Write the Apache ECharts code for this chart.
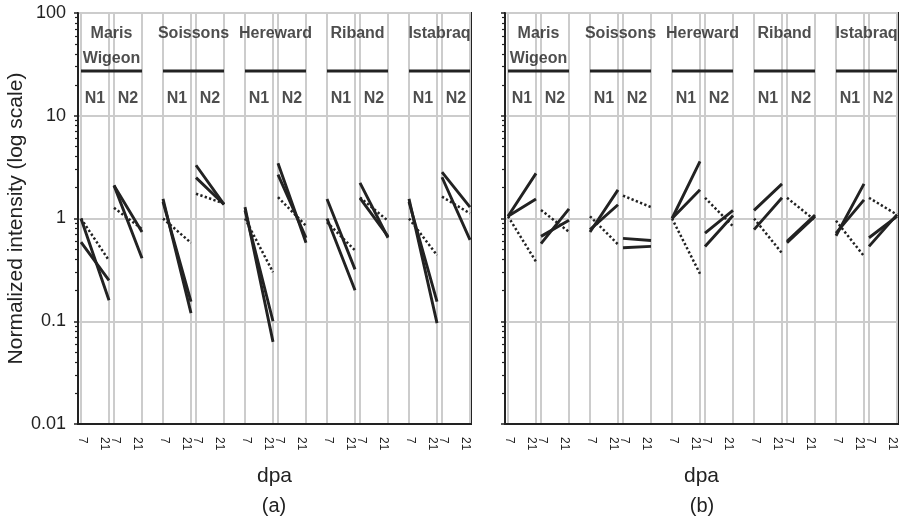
<!DOCTYPE html>
<html>
<head>
<meta charset="utf-8">
<script src="https://cdn.jsdelivr.net/npm/echarts@6/dist/echarts.min.js"></script>
<style>
  html, body { margin: 0; padding: 0; background: #fff; }
  #chart { width: 906px; height: 519px; }
</style>
</head>
<body>
<div id="chart"></div>
<script>
// cultivars and sub-groups along the x axis
const cultivars = ['Maris\nWigeon', 'Soissons', 'Hereward', 'Riband', 'Istabraq']
const nLevels = ['N1', 'N2']
const dpaDays = ['7', '21']
const panelLabels = ['(a)', '(b)']

// [value at 7 dpa, value at 21 dpa]
// order: MW N1, MW N2, So N1, So N2, He N1, He N2, Ri N1, Ri N2, Is N1, Is N2
const aSolid1 = [[1.0, 0.16], [2.1, 0.74], [1.55, 0.12], [3.3, 1.37], [1.29, 0.063], [3.45, 0.58], [1.55, 0.32], [2.22, 0.65], [1.55, 0.096], [2.83, 1.29]]
const aSolid2 = [[0.59, 0.25], [2.1, 0.41], [1.45, 0.155], [2.5, 1.37], [1.2, 0.10], [2.67, 0.65], [1.0, 0.20], [1.58, 0.67], [1.45, 0.155], [2.52, 0.62]]
const aDotted = [[1.0, 0.39], [1.27, 0.79], [1.0, 0.58], [1.74, 1.4], [1.0, 0.30], [1.61, 0.85], [0.92, 0.49], [1.6, 0.95], [1.0, 0.44], [1.63, 1.12]]

const bSolid1 = [[1.05, 2.75], [0.57, 1.24], [0.74, 1.9], [0.64, 0.61], [1.0, 3.6], [0.72, 1.2], [1.2, 2.17], [0.58, 1.05], [0.68, 2.17], [0.535, 1.09]]
const bSolid2 = [[1.05, 1.55], [0.67, 0.96], [0.78, 1.36], [0.52, 0.535], [1.0, 1.9], [0.535, 1.07], [0.78, 1.59], [0.6, 1.08], [0.72, 1.52], [0.65, 1.05]]
const bDotted = [[1.05, 0.38], [1.21, 0.74], [1.05, 0.56], [1.67, 1.29], [1.0, 0.29], [1.59, 0.84], [1.0, 0.46], [1.59, 0.96], [0.95, 0.43], [1.59, 1.09]]

// y axis decades
const yMin = 0.01
const yMax = 100

// x layout (axis units)
const X0 = 3, GROUP_STEP = 82, N_STEP = 33, DAY_STEP = 28, X_MAX = 393
const FONT = '"Liberation Sans", Arial, Helvetica, sans-serif'
const INK = '#222'
const GRID_GRAY = '#cccccc'

function xPos(i, d) {
  const g = Math.floor(i / 2)
  const n = i % 2
  return X0 + g * GROUP_STEP + n * N_STEP + d * DAY_STEP
}

// tick positions + labels
const tickPos = []
const tickLabel = {}
for (let i = 0; i < cultivars.length * nLevels.length; i++) {
  dpaDays.forEach((d, k) => {
    const p = xPos(i, k)
    tickPos.push(p)
    tickLabel[p] = { text: d, late: k === 1 }
  })
}

// minor ticks (2..9 in each decade), as exponents for a linear helper axis
const minorExp = []
for (let e = Math.log10(yMin); e < Math.log10(yMax); e++) {
  for (let m = 2; m <= 9; m++) minorExp.push(e + Math.log10(m))
}

function segments(pairs) {
  const out = []
  pairs.forEach((v, i) => {
    out.push([xPos(i, 0), v[0]])
    out.push([xPos(i, 1), v[1]])
    out.push([xPos(i, 1) + 1, '-'])
  })
  return out
}

function lineSeries(pairs, k, dotted) {
  return {
    type: 'line',
    xAxisIndex: k,
    yAxisIndex: k * 2,
    data: segments(pairs),
    symbol: 'none',
    connectNulls: false,
    z: 5,
    lineStyle: dotted
      ? { color: INK, width: 2.5, type: [2.3, 2.3] }
      : { color: INK, width: 2.9 }
  }
}

function headerSeries(k) {
  const bar = []
  const names = []
  const ns = []
  cultivars.forEach((c, g) => {
    const s = xPos(g * 2, 0)
    const e = xPos(g * 2 + 1, 1)
    bar.push([s, 27.3], [e, 27.3], [e + 1, '-'])
    names.push({ value: [(s + e) / 2, 85], name: c })
    nLevels.forEach((n, j) => {
      ns.push({ value: [(xPos(g * 2 + j, 0) + xPos(g * 2 + j, 1)) / 2, 14.8], name: n })
    })
  })
  const lbl = { show: true, color: INK, fontFamily: FONT, fontWeight: 'bold', fontSize: 16, formatter: p => p.name }
  return [
    {
      type: 'line', xAxisIndex: k, yAxisIndex: k * 2, data: bar, symbol: 'none',
      lineStyle: { color: INK, width: 3 }, z: 4
    },
    {
      type: 'scatter', xAxisIndex: k, yAxisIndex: k * 2, data: names, symbolSize: 1,
      itemStyle: { color: 'rgba(0,0,0,0)' },
      label: Object.assign({}, lbl, { position: 'bottom', distance: 0, lineHeight: 25 }), z: 6
    },
    {
      type: 'scatter', xAxisIndex: k, yAxisIndex: k * 2, data: ns, symbolSize: 1,
      itemStyle: { color: 'rgba(0,0,0,0)' },
      label: Object.assign({}, lbl, { position: 'inside' }), z: 6
    }
  ]
}

const grids = [0, 1].map(k => ({
  left: k === 0 ? 78 : 505, top: 13, width: 393, height: 411,
  show: true, borderColor: INK, borderWidth: 2, backgroundColor: 'transparent'
}))

const xAxes = [0, 1].map(k => ({
  gridIndex: k, type: 'value', min: 0, max: X_MAX,
  axisLine: { show: true, onZero: false, lineStyle: { color: INK, width: 2 } },
  axisTick: { show: false, customValues: tickPos },
  axisLabel: {
    customValues: tickPos,
    formatter: v => {
      const t = tickLabel[v]
      if (!t) return ''
      return t.late ? '{l|' + t.text + '}' : '{e|' + t.text + '}'
    },
    rotate: -90, fontSize: 12, color: INK, fontFamily: FONT, margin: 13,
    rich: {
      l: { fontSize: 12, color: INK, fontFamily: FONT, padding: [9, 0, 0, 0] },
      e: { fontSize: 12, color: INK, fontFamily: FONT, padding: [0, 0, 2, 0] }
    }
  },
  splitLine: { show: true, lineStyle: { color: GRID_GRAY, width: 2 } },
  name: 'dpa', nameLocation: 'middle', nameGap: 42,
  nameTextStyle: { fontSize: 21, color: INK, fontFamily: FONT }
}))

const yAxes = []
;[0, 1].forEach(k => {
  yAxes.push({
    gridIndex: k, type: 'log', logBase: 10, min: yMin, max: yMax,
    axisLine: { show: true, lineStyle: { color: INK, width: 2 } },
    axisTick: { show: true, length: 4, lineStyle: { color: INK, width: 1.5 } },
    axisLabel: { show: k === 0, fontSize: 18, color: INK, fontFamily: FONT, margin: 12 },
    splitLine: { show: true, lineStyle: { color: GRID_GRAY, width: 2 } },
    name: k === 0 ? 'Normalized intensity (log scale)' : '',
    nameLocation: 'middle', nameGap: 47,
    nameTextStyle: { fontSize: 21, color: INK, fontFamily: FONT }
  })
  // helper axis in log10 space, only for the minor tick marks
  yAxes.push({
    gridIndex: k, type: 'value', min: Math.log10(yMin), max: Math.log10(yMax), position: 'left',
    axisLine: { show: false },
    axisTick: { show: true, length: 3, customValues: minorExp, lineStyle: { color: INK, width: 1.2 } },
    axisLabel: { show: false },
    splitLine: { show: false }
  })
})

const series = [
  lineSeries(aDotted, 0, true), lineSeries(aSolid2, 0, false), lineSeries(aSolid1, 0, false),
  lineSeries(bDotted, 1, true), lineSeries(bSolid2, 1, false), lineSeries(bSolid1, 1, false),
  ...headerSeries(0), ...headerSeries(1)
]

const chart = echarts.init(document.getElementById('chart'), null, { renderer: 'canvas' })
chart.setOption({
  animation: false,
  backgroundColor: '#fff',
  grid: grids,
  xAxis: xAxes,
  yAxis: yAxes,
  series: series,
  graphic: panelLabels.map((t, k) => ({
    type: 'text', x: k === 0 ? 274 : 702, y: 506,
    style: { text: t, fill: INK, font: '20px ' + FONT, textAlign: 'center', textVerticalAlign: 'middle' }
  }))
})
</script>
</body>
</html>
